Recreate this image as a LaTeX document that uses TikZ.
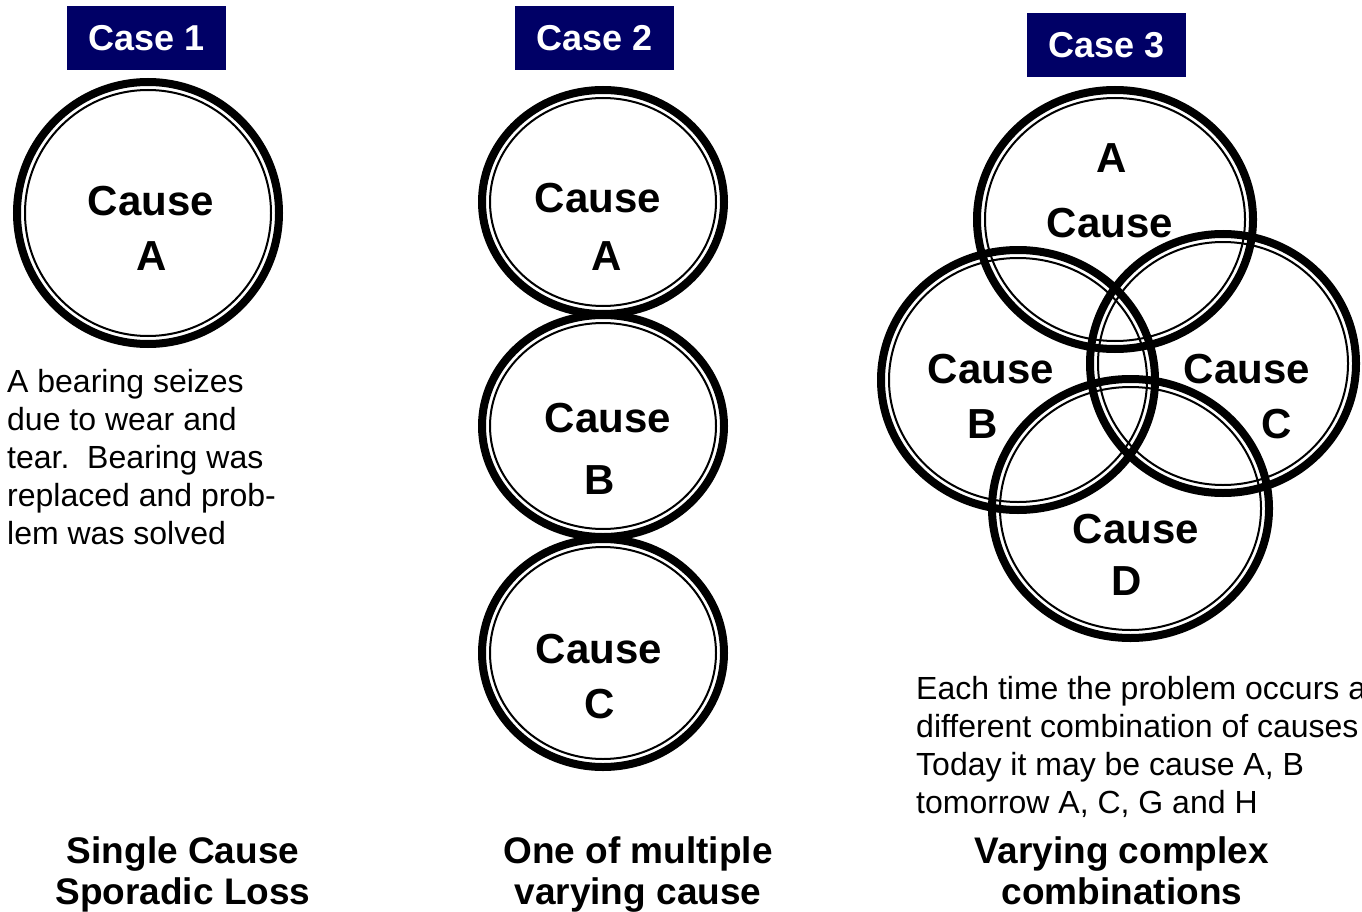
\documentclass[tikz,border=0pt]{standalone}
\usepackage{fontspec}
\setmainfont{Liberation Sans}
\usetikzlibrary{shapes.geometric}
\definecolor{casenavy}{RGB}{0,0,102}
\tikzset{
  ringouter/.style={ellipse, draw, line width=8pt, inner sep=0pt, outer sep=0pt},
  ringinner/.style={line width=2pt},
  causetxt/.style={font=\fontsize{42}{48}\selectfont\bfseries, anchor=base, inner sep=0pt},
  casebox/.style={fill=casenavy, text=white, font=\fontsize{36}{40}\selectfont\bfseries, minimum width=159pt, minimum height=64pt, inner sep=0pt},
  desc/.style={font=\fontsize{32}{38}\selectfont, align=left, anchor=north west, inner sep=0pt},
  titletxt/.style={font=\fontsize{37}{41}\selectfont\bfseries, align=center, anchor=north, inner sep=0pt},
}
% name, x, y, outer rx, outer ry
\newcommand\drawring[5]{%
  \node[ringouter, minimum width={2*(#4-4)}, minimum height={2*(#5-4)}] (#1) at (#2,#3) {};
  \draw[ringinner] (#1.center) ellipse [x radius={#4-12}, y radius={#5-12}];
}
\begin{document}
\begin{tikzpicture}[x=1pt,y=-1pt]
\useasboundingbox (0,0) rectangle (1362,912);
\clip (0,0) rectangle (1362,912);

% Case labels
\node[casebox] (case1) at (146.5,38) {Case 1};
\node[casebox] (case2) at (594.5,38) {Case 2};
\node[casebox] (case3) at (1106.5,45) {Case 3};

% Case 1
\drawring{r1a}{148}{213}{135}{135}
\node[causetxt] (t1a) at (151,215) {Cause};
\node[causetxt] (t1al) at (152,270) {A};
\node[desc] (d1) at (7,369) {A bearing seizes\\due to wear and\\tear.\ \ Bearing was\\replaced and prob-\\lem was solved};

% Case 2
\drawring{r2a}{603}{202}{125}{116}
\drawring{r2b}{603}{426}{125}{115}
\drawring{r2c}{603}{653}{125}{118}
\node[causetxt] (t2a) at (598,212) {Cause};
\node[causetxt] (t2al) at (607,270) {A};
\node[causetxt] (t2b) at (608,432) {Cause};
\node[causetxt] (t2bl) at (600,494) {B};
\node[causetxt] (t2c) at (599,663) {Cause};
\node[causetxt] (t2cl) at (600,718) {C};

% Case 3
\drawring{r3a}{1115}{219.5}{142}{133.5}
\drawring{r3b}{1018}{380}{141}{134}
\drawring{r3c}{1223}{363.5}{137}{133.5}
\drawring{r3d}{1130.5}{508.5}{142.5}{133.5}
\node[causetxt] (t3al) at (1112,173) {A};
\node[causetxt] (t3a) at (1110,237) {Cause};
\node[causetxt] (t3b) at (991,383) {Cause};
\node[causetxt] (t3bl) at (983,438) {B};
\node[causetxt] (t3c) at (1247,383) {Cause};
\node[causetxt] (t3cl) at (1277,438) {C};
\node[causetxt] (t3d) at (1136,543) {Cause};
\node[causetxt] (t3dl) at (1127,595) {D};
\node[desc] (d3) at (916,676) {Each time the problem occurs a\\different combination of causes\\Today it may be cause A, B\\tomorrow A, C, G and H};

% Titles
\node[titletxt] (ti1) at (183,836) {Single Cause\\Sporadic Loss};
\node[titletxt] (ti2) at (638,836) {One of multiple\\varying cause};
\node[titletxt] (ti3) at (1122,836) {Varying complex\\combinations};
\end{tikzpicture}
\end{document}
